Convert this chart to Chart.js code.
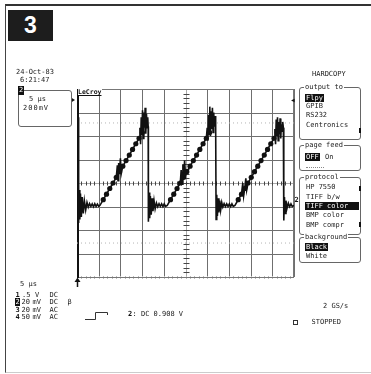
<!DOCTYPE html>
<html>
<head>
<meta charset="utf-8">
<script src="https://cdn.jsdelivr.net/npm/chart.js@4.4.0/dist/chart.umd.min.js"></script>
<style>
  html, body { margin: 0; padding: 0; background: #fff; }
  #page { position: relative; width: 371px; height: 374px; overflow: hidden;
          font-family: "DejaVu Sans Mono", monospace; font-size: 7px; color: #222; }
  #page canvas { position: absolute; left: 0; top: 0; }
  .t { position: absolute; line-height: 8px; height: 8px; white-space: pre; }
  .b { font-weight: bold; color: #111; }
  .inv { background: #111; color: #fff; padding: 0 1px; }
  .box { position: absolute; border: 1px solid #666; border-radius: 3px; }
  .ttl { position: absolute; line-height: 8px; background: #fff; padding: 0 1px; white-space: pre; }
  .mark { position: absolute; width: 2px; height: 5px; background: #111; }
</style>
</head>
<body>
<div id="page">
  <div style="position:absolute;left:5px;top:4px;width:400px;height:366px;border-left:1px solid #444;border-top:2px solid #333;border-bottom:1px solid #ccc"></div>
  <div style="position:absolute;left:8px;top:10px;width:45px;height:31px;background:#1d1d1d;color:#fff;font:bold 23px 'Liberation Sans',Arial,sans-serif;line-height:31px;text-align:center">3</div>

  <canvas id="scope" width="371" height="374"></canvas>

  <!-- top left: date and zoom box -->
  <div class="t" style="left:16px;top:68px">24-Oct-83</div>
  <div class="t" style="left:20px;top:76px">6:21:47</div>
  <div class="box" style="left:18px;top:90px;width:52px;height:35px"></div>
  <div class="t inv" style="left:18px;top:86px;height:9px;line-height:9px">2</div>
  <div class="t" style="left:29px;top:95px">5 µs</div>
  <div class="t" style="left:23px;top:104px;letter-spacing:1px">200mV</div>
  <div class="t b" style="left:78px;top:88px;font-size:6.5px;background:#fff;text-decoration:underline;padding-right:1px">LeCroy</div>

  <!-- right: hardcopy menu -->
  <div class="t" style="left:312px;top:70px">HARDCOPY</div>
  <div class="box" style="left:299px;top:87px;width:60px;height:51px"></div>
  <div class="ttl" style="left:304px;top:83px">output to</div>
  <div class="t inv" style="left:305px;top:94px">Flpy</div>
  <div class="t" style="left:306px;top:102px">GPIB</div>
  <div class="t" style="left:306px;top:111px">RS232</div>
  <div class="t" style="left:306px;top:121px">Centronics</div>

  <div class="box" style="left:299px;top:145px;width:60px;height:24px"></div>
  <div class="ttl" style="left:304px;top:141px">page feed</div>
  <div class="t inv" style="left:305px;top:153px">OFF</div>
  <div class="t" style="left:325px;top:153px">On</div>
  <div style="position:absolute;left:306px;top:167px;width:18px;border-top:1px dotted #888"></div>

  <div class="box" style="left:299px;top:177px;width:60px;height:56px"></div>
  <div class="ttl" style="left:304px;top:173px">protocol</div>
  <div class="t" style="left:306px;top:183px">HP 7550</div>
  <div class="t" style="left:306px;top:193px">TIFF b/w</div>
  <div class="t inv" style="left:305px;top:202px;width:52px">TIFF color</div>
  <div class="t" style="left:306px;top:211px">BMP color</div>
  <div class="t" style="left:306px;top:221px">BMP compr</div>

  <div class="box" style="left:299px;top:237px;width:60px;height:24px"></div>
  <div class="ttl" style="left:304px;top:233px">background</div>
  <div class="t inv" style="left:305px;top:243px">Black</div>
  <div class="t" style="left:306px;top:252px">White</div>

  <div class="mark" style="left:359px;top:128px"></div>
  <div class="mark" style="left:359px;top:186px"></div>
  <div class="mark" style="left:359px;top:222px"></div>
  <div class="t" style="left:291px;top:96px;font-size:6px;color:#111">◀</div>
  <div class="t b" style="left:294.5px;top:196px">2</div>

  <!-- bottom: channel setup and status -->
  <div class="t" style="left:20px;top:280px">5 µs</div>
  <div class="t b" style="left:15.5px;top:290.5px">1</div>
  <div class="t" style="left:22px;top:290.5px">.5</div>
  <div class="t" style="left:35px;top:290.5px">V</div>
  <div class="t" style="left:49.5px;top:290.5px">DC</div>
  <div class="t inv" style="left:15px;top:298px;padding:0 0.5px">2</div>
  <div class="t" style="left:21.5px;top:298px">20</div>
  <div class="t" style="left:32.5px;top:298px">mV</div>
  <div class="t" style="left:49.5px;top:298px">DC</div>
  <div class="t" style="left:67.5px;top:298px">β</div>
  <div class="t b" style="left:15.5px;top:305.5px">3</div>
  <div class="t" style="left:21.5px;top:305.5px">20</div>
  <div class="t" style="left:32.5px;top:305.5px">mV</div>
  <div class="t" style="left:49.5px;top:305.5px">AC</div>
  <div class="t b" style="left:15.5px;top:313px">4</div>
  <div class="t" style="left:21.5px;top:313px">50</div>
  <div class="t" style="left:32.5px;top:313px">mV</div>
  <div class="t" style="left:49.5px;top:313px">AC</div>

  <svg style="position:absolute;left:84px;top:310px" width="25" height="11">
    <path d="M1 9.5H11.5V2.5H23.5V5" fill="none" stroke="#333" stroke-width="1"/>
  </svg>
  <div class="t b" style="left:128px;top:309.5px">2</div>
  <div class="t" style="left:132.5px;top:309.5px">: DC 0.908 V</div>

  <div class="t" style="left:323px;top:302px">2 GS/s</div>
  <div style="position:absolute;left:293px;top:320px;width:3px;height:3px;border:1px solid #333"></div>
  <div class="t" style="left:311.5px;top:318px">STOPPED</div>
</div>

<script>
// 5 us/div, 200 mV/div, 10 x 8 divisions
const divTimes = [0, 5, 10, 15, 20, 25, 30, 35, 40, 45, 50];
const divLevels = [-800, -600, -400, -200, 0, 200, 400, 600, 800];

// sawtooth trace on channel 2 (time in us, level in mV)
const traceT = [
  0, 0.08, 0.15, 0.22, 0.3, 0.38, 0.5, 0.65, 0.8, 1.0, 1.2, 1.45, 1.7, 2.0, 2.3, 2.6, 2.9, 3.2, 3.5, 3.8, 4.1, 4.4, 4.7, 5.0, 5.3,
  6.05, 6.8, 7.55, 8.3, 9.05, 9.3, 9.45, 9.6, 9.8, 10.0, 10.2, 10.55, 11.3, 12.05, 12.8, 13.55, 14.3, 14.5, 14.65, 14.8, 14.95,
  15.1, 15.25, 15.4, 15.55, 15.7, 15.85, 16.0, 16.15, 16.3, 16.4,
  16.45, 16.6, 16.75, 16.9, 17.1, 17.3, 17.5, 17.75, 18.0, 18.3, 18.6, 18.9, 19.2, 19.5, 19.8, 20.1, 20.4, 20.8,
  21.55, 22.3, 23.05, 23.8, 24.0, 24.2, 24.4, 24.55, 24.8, 25.0, 25.3, 26.05, 26.8, 27.55, 28.3, 29.05, 29.8, 30.0, 30.15,
  30.3, 30.45, 30.6, 30.75, 30.9, 31.05, 31.2, 31.35, 31.5, 31.65, 31.8, 31.95,
  32.05, 32.2, 32.35, 32.5, 32.7, 32.9, 33.1, 33.35, 33.6, 33.9, 34.2, 34.5, 34.8, 35.1, 35.4, 35.7, 36.0, 36.4,
  37.15, 37.9, 38.2, 38.4, 38.65, 38.9, 39.1, 39.4, 40.15, 40.9, 41.65, 42.4, 43.15, 43.9, 44.65, 45.4, 45.6, 45.75, 45.9,
  46.05, 46.2, 46.35, 46.5, 46.65, 46.8, 46.95, 47.1, 47.25, 47.4, 47.55,
  47.65, 47.8, 47.95, 48.15, 48.4, 48.7, 49.0, 49.3, 49.6, 50
];
const traceV = [
  620, 380, 700, 330, 560, -340, -60, -310, -90, -290, -120, -260, -150, -230, -165, -205, -175, -200, -178, -202, -176, -200, -180, -198, -190,
  -142, -95, -47, 0, 48, 150, 20, 170, 96, 210, 80, 143, 191, 238, 286, 334, 381, 470, 330, 560, 420,
  620, 380, 600, 470, 640, 420, 590, 470, 560, 480,
  -330, -80, -300, -110, -270, -130, -240, -150, -220, -170, -202, -176, -200, -178, -201, -177, -199, -190,
  -142, -95, -47, 0, 110, -10, 160, 48, 190, 60, 96, 143, 191, 238, 286, 334, 381, 470, 360,
  580, 430, 650, 400, 610, 460, 640, 430, 600, 480, 570, 500,
  -310, -100, -280, -130, -250, -150, -230, -165, -205, -176, -201, -177, -200, -178, -201, -177, -199, -190,
  -142, -95, 0, -110, -47, 40, -60, 0, 48, 96, 143, 191, 238, 286, 334, 381, 460, 330, 540,
  400, 560, 360, 520, 420, 550, 380, 500, 440, 520, 470,
  -320, -120, -260, -150, -215, -172, -202, -178, -200, -190
];

// heavy sample dots along the ramps
const dotT = [
  6.05, 6.8, 7.55, 8.3, 9.05, 9.8, 10.55, 11.3, 12.05, 12.8, 13.55, 14.3, 15.05,
  21.55, 22.3, 23.05, 23.8, 24.55, 25.3, 26.05, 26.8, 27.55, 28.3, 29.05, 29.8, 30.55,
  37.15, 37.9, 38.65, 39.4, 40.15, 40.9, 41.65, 42.4, 43.15, 43.9, 44.65, 45.4, 46.15
];
const dotV = [
  -142, -95, -47, 0, 48, 96, 143, 191, 238, 286, 334, 381, 429,
  -142, -95, -47, 0, 48, 96, 143, 191, 238, 286, 334, 381, 429,
  -142, -95, -47, 0, 48, 96, 143, 191, 238, 286, 334, 381, 429
];

// faint dotted traces of the other channels
const otherLevels = [511, -511];

const toPoints = (xs, ys) => xs.map((t, i) => ({ x: t, y: ys[i] }));

const scopeGrid = {
  id: "scopeGrid",
  beforeDatasetsDraw(chart) {
    const { ctx, chartArea: a, scales: { x, y } } = chart;
    const px = (v) => Math.round(x.getPixelForValue(v)) + 0.5;
    const py = (v) => Math.round(y.getPixelForValue(v)) + 0.5;
    ctx.save();
    ctx.lineWidth = 1;

    // major divisions
    ctx.strokeStyle = "#6f6f6f";
    ctx.beginPath();
    divTimes.forEach((t) => {
      if (t === 25 || t === 0) return;
      ctx.moveTo(px(t), a.top);
      ctx.lineTo(px(t), a.bottom);
    });
    divLevels.forEach((v) => {
      if (v === 0) return;
      ctx.moveTo(a.left, py(v));
      ctx.lineTo(a.right, py(v));
    });
    ctx.stroke();

    // centre axes, light with minor ticks
    ctx.strokeStyle = "#aaa";
    ctx.beginPath();
    ctx.moveTo(px(25), a.top);
    ctx.lineTo(px(25), a.bottom);
    ctx.moveTo(a.left, py(0));
    ctx.lineTo(a.right, py(0));
    ctx.stroke();

    ctx.strokeStyle = "#444";
    ctx.beginPath();
    for (let t = 1; t < 50; t++) {
      ctx.moveTo(px(t), py(0) - 2);
      ctx.lineTo(px(t), py(0) + 2);
    }
    for (let v = -760; v < 800; v += 40) {
      ctx.moveTo(px(25) - 3, py(v));
      ctx.lineTo(px(25) + 3, py(v));
    }
    ctx.stroke();

    // minor ticks on bottom edge
    ctx.strokeStyle = "#bbb";
    ctx.beginPath();
    for (let t = 1; t < 50; t++) {
      ctx.moveTo(px(t), a.bottom - 1);
      ctx.lineTo(px(t), a.bottom + 2);
    }
    ctx.stroke();

    // frame of the grid
    ctx.strokeStyle = "#777";
    ctx.strokeRect(a.left + 0.5, a.top + 0.5, a.right - a.left - 1, a.bottom - a.top);
    ctx.strokeStyle = "#111";
    ctx.lineWidth = 2;
    ctx.beginPath();
    ctx.moveTo(a.left + 1, a.top);
    ctx.lineTo(a.left + 1, a.bottom + 1);
    ctx.stroke();
    ctx.restore();
  },
  afterDatasetsDraw(chart) {
    const { ctx, chartArea: a, scales: { x } } = chart;
    const x0 = Math.round(x.getPixelForValue(0));
    ctx.save();
    ctx.fillStyle = "#111";
    ctx.strokeStyle = "#111";
    // trigger time marker under the grid
    ctx.lineWidth = 1.5;
    ctx.beginPath();
    ctx.moveTo(x0 + 0.5, a.bottom + 3);
    ctx.lineTo(x0 + 0.5, a.bottom + 10);
    ctx.stroke();
    ctx.beginPath();
    ctx.moveTo(x0 + 0.5, a.bottom + 0.5);
    ctx.lineTo(x0 - 2.5, a.bottom + 5);
    ctx.lineTo(x0 + 3.5, a.bottom + 5);
    ctx.closePath();
    ctx.fill();
    // level marker left of the grid
    ctx.beginPath();
    ctx.moveTo(a.left - 6, 97.5);
    ctx.lineTo(a.left - 2, 100);
    ctx.lineTo(a.left - 6, 102.5);
    ctx.closePath();
    ctx.fill();
    ctx.restore();
  }
};

new Chart(document.getElementById("scope").getContext("2d"), {
  type: "line",
  data: {
    datasets: [
      {
        data: toPoints(traceT, traceV),
        borderColor: "#111",
        borderWidth: 1.6,
        pointRadius: 0,
        tension: 0
      },
      {
        data: toPoints(dotT, dotV),
        showLine: false,
        pointRadius: 2.6,
        pointBorderWidth: 0,
        pointBackgroundColor: "#111"
      },
      ...otherLevels.map((v) => ({
        data: [{ x: 0, y: v }, { x: 50, y: v }],
        borderColor: "#b5b5b5",
        borderWidth: 1,
        borderDash: [1, 3],
        pointRadius: 0
      }))
    ]
  },
  options: {
    responsive: false,
    animation: false,
    devicePixelRatio: 1,
    events: [],
    layout: { padding: { left: 77, right: 77, top: 89, bottom: 97 } },
    scales: {
      x: { type: "linear", min: 0, max: 50, display: false },
      y: { min: -800, max: 800, display: false }
    },
    plugins: { legend: { display: false }, tooltip: { enabled: false } }
  },
  plugins: [scopeGrid]
});
</script>
</body>
</html>
